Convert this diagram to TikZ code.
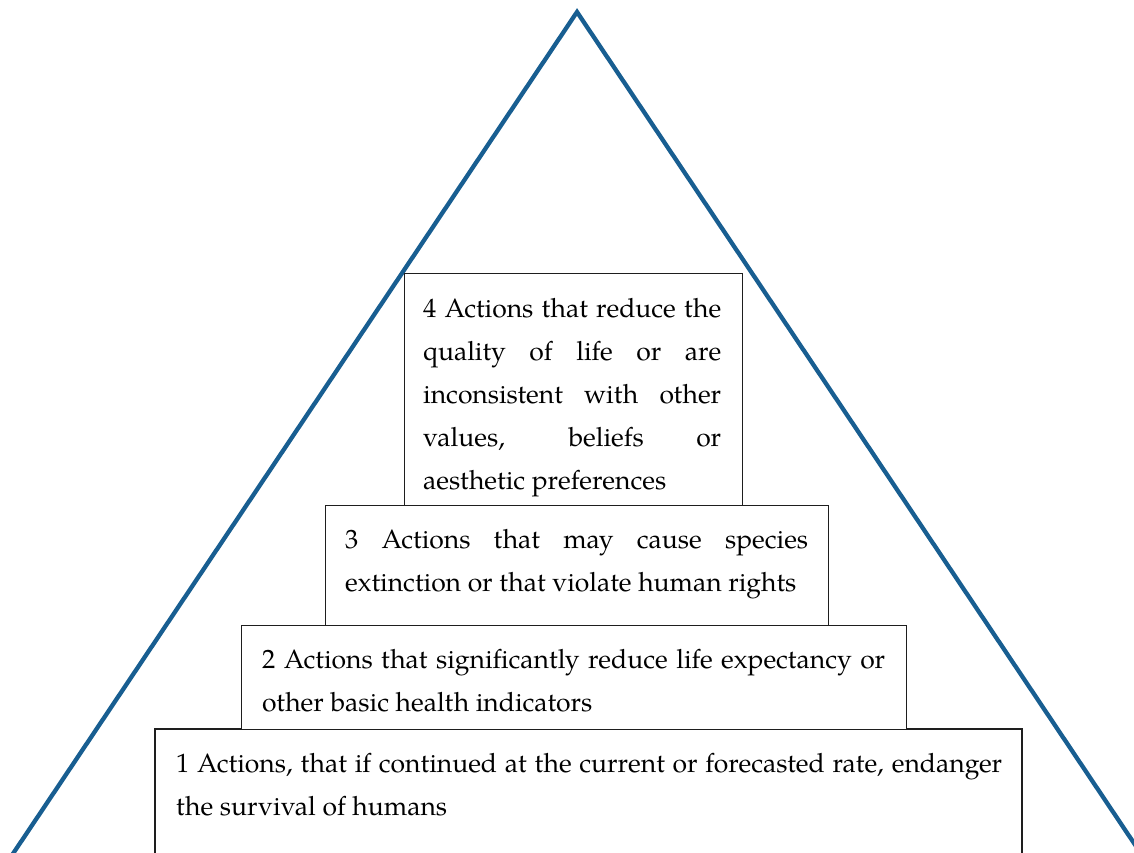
\documentclass[tikz,border=0pt]{standalone}
\usepackage{fontspec}
\setmainfont{TeX Gyre Pagella}
\definecolor{triblue}{RGB}{24,94,145}
\definecolor{boxline}{RGB}{30,30,30}
\tikzset{
  tri/.style={draw=triblue, line width=4.3pt, miter limit=20},
  levelbox/.style={draw=boxline, line width=1.2pt, fill=white},
  leveltext/.style={anchor=base west, inner sep=0pt, align=justify, font=\fontsize{26.5}{43}\selectfont}
}
\begin{document}
\begin{tikzpicture}[x=1pt,y=-1pt]
\useasboundingbox (0,0) rectangle (1134,853);
\begin{scope}
\clip (0,0) rectangle (1134,853);
\coordinate (apex) at (577,12);
\coordinate (bl) at (-10,888);
\coordinate (br) at (1164,888);
\draw[tri] (bl) -- (apex) -- (br);
\path[levelbox] (155,729) rectangle (1022,880);
\end{scope}
% boxes
\node[levelbox, minimum width=338pt, minimum height=232pt, inner sep=0pt, anchor=north west] (b4) at (404,273) {};
\node[levelbox, minimum width=503pt, minimum height=120pt, inner sep=0pt, anchor=north west] (b3) at (325,505) {};
\node[levelbox, minimum width=665pt, minimum height=104pt, inner sep=0pt, anchor=north west] (b2) at (241,625) {};
\coordinate (b1) at (155,729);
% texts
\node[leveltext, text width=298pt] (t4) at (423,317) {4 Actions that reduce the\linebreak quality of life or are\linebreak inconsistent with other\linebreak values, beliefs or\linebreak aesthetic preferences};
\node[leveltext, text width=463pt] (t3) at (345,548) {3 Actions that may cause species\linebreak extinction or that violate human rights};
\node[leveltext, text width=623pt] (t2) at (262,668) {2 Actions that significantly reduce life expectancy or\linebreak other basic health indicators};
\node[leveltext, text width=826pt] (t1) at (176,772) {1 Actions, that if continued at the current or forecasted rate, endanger\linebreak the survival of humans};
\end{tikzpicture}
\end{document}
